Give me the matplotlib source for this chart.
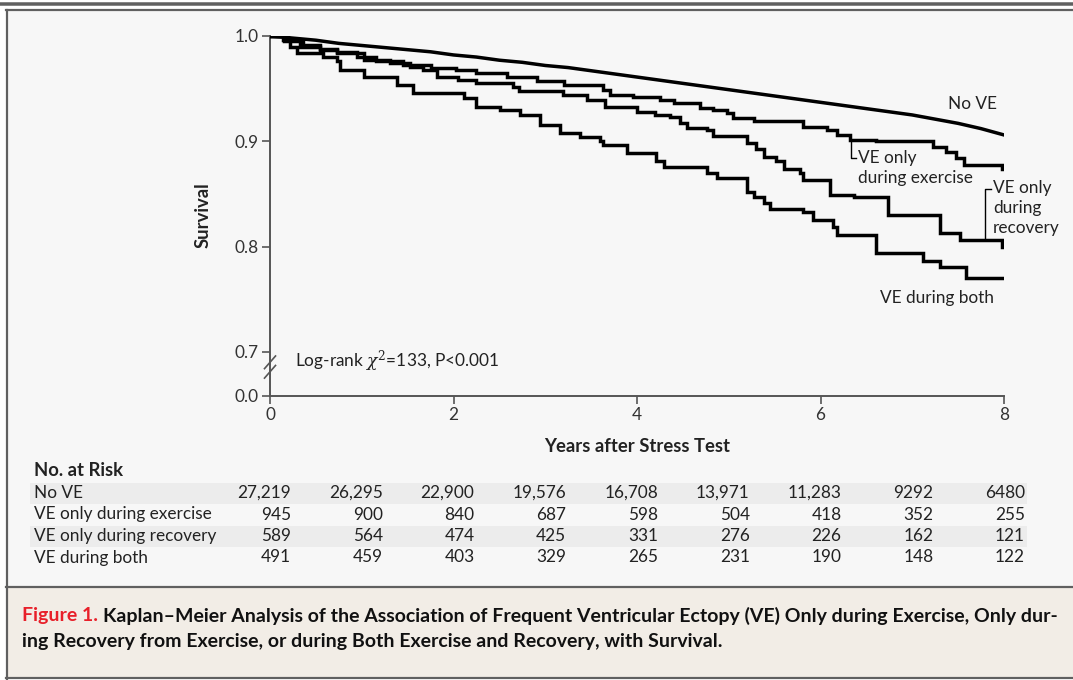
import numpy as np
import matplotlib.pyplot as plt
from matplotlib.patches import Rectangle
from matplotlib.lines import Line2D

plt.rcParams['font.family'] = ['Lato', 'DejaVu Sans']
plt.rcParams['mathtext.fontset'] = 'dejavuserif'

W, H = 1073, 680

# Kaplan-Meier curves (years, survival)
t_none = [0, 0.25, 0.5, 0.75, 1.0, 1.25, 1.5, 1.75, 2.0, 2.25, 2.5, 2.75, 3.0, 3.25, 3.5, 3.75,
          4.0, 4.25, 4.5, 4.75, 5.0, 5.25, 5.5, 5.75, 6.0, 6.25, 6.5, 6.75, 7.0, 7.25, 7.5, 7.75, 8.0]
s_none = [1.0, 0.998, 0.996, 0.993, 0.991, 0.989, 0.987, 0.985, 0.982, 0.980, 0.977, 0.975, 0.972,
          0.970, 0.967, 0.964, 0.961, 0.958, 0.955, 0.952, 0.949, 0.946, 0.943, 0.940, 0.937, 0.934,
          0.931, 0.928, 0.925, 0.921, 0.917, 0.912, 0.906]

t_exer = [0, 0.2, 0.36, 0.55, 0.73, 0.95, 1.16, 1.45, 1.75, 2.03, 2.25, 2.58, 2.91, 3.20, 3.63, 3.71,
          3.96, 4.25, 4.40, 4.69, 4.83, 4.98, 5.05, 5.27, 5.81, 6.07, 6.18, 6.32, 6.61, 7.23, 7.37,
          7.48, 7.56, 7.98, 8.0]
s_exer = [1.0, 0.996, 0.991, 0.988, 0.985, 0.980, 0.976, 0.972, 0.970, 0.968, 0.965, 0.961, 0.957,
          0.953, 0.949, 0.944, 0.942, 0.939, 0.936, 0.932, 0.930, 0.927, 0.922, 0.919, 0.914, 0.911,
          0.906, 0.901, 0.900, 0.895, 0.890, 0.884, 0.877, 0.874, 0.874]

t_reco = [0, 0.15, 0.33, 0.55, 0.73, 1.02, 1.31, 1.53, 1.67, 1.82, 2.05, 2.25, 2.65, 2.71, 3.19,
          3.45, 3.65, 4.00, 4.20, 4.36, 4.47, 4.54, 4.76, 4.83, 5.20, 5.30, 5.38, 5.52, 5.60, 5.78,
          5.81, 6.10, 6.36, 6.74, 7.30, 7.52, 7.98, 8.0]
s_reco = [1.0, 0.995, 0.990, 0.987, 0.984, 0.977, 0.974, 0.971, 0.968, 0.961, 0.958, 0.955, 0.952,
          0.948, 0.944, 0.939, 0.933, 0.928, 0.925, 0.923, 0.917, 0.913, 0.911, 0.905, 0.898, 0.893,
          0.885, 0.881, 0.874, 0.870, 0.863, 0.849, 0.847, 0.830, 0.813, 0.806, 0.800, 0.800]

t_both = [0, 0.145, 0.218, 0.29, 0.58, 0.73, 0.76, 1.02, 1.38, 1.56, 2.11, 2.25, 2.51, 2.72, 2.94,
          3.16, 3.38, 3.60, 3.63, 3.89, 4.21, 4.29, 4.76, 4.87, 5.20, 5.27, 5.38, 5.45, 5.81, 5.92,
          6.14, 6.18, 6.61, 7.12, 7.30, 7.59, 8.0]
s_both = [1.0, 0.996, 0.990, 0.984, 0.980, 0.976, 0.968, 0.961, 0.953, 0.946, 0.941, 0.933, 0.930,
          0.925, 0.915, 0.908, 0.904, 0.900, 0.896, 0.889, 0.881, 0.876, 0.870, 0.865, 0.852, 0.847,
          0.841, 0.836, 0.833, 0.825, 0.819, 0.811, 0.794, 0.786, 0.781, 0.770, 0.770]

# axis ticks (0.0 sits just below the break)
y_zero = 0.658
yticks = [y_zero, 0.7, 0.8, 0.9, 1.0]
ytick_labels = ["0.0", "0.7", "0.8", "0.9", "1.0"]
xticks = [0, 2, 4, 6, 8]

# numbers at risk
risk_years = [0, 1, 2, 3, 4, 5, 6, 7, 8]
risk_groups = ["No VE", "VE only during exercise", "VE only during recovery", "VE during both"]
risk_none = ["27,219", "26,295", "22,900", "19,576", "16,708", "13,971", "11,283", "9292", "6480"]
risk_exer = ["945", "900", "840", "687", "598", "504", "418", "352", "255"]
risk_reco = ["589", "564", "474", "425", "331", "276", "226", "162", "121"]
risk_both = ["491", "459", "403", "329", "265", "231", "190", "148", "122"]


def px(x, y):
    return x / W, 1 - y / H


fig = plt.figure(figsize=(W / 100, H / 100), dpi=100, facecolor='white')

# page frame and backgrounds
fig.patches.append(Rectangle(px(7, 679), (W - 7) / W, 92 / H, transform=fig.transFigure,
                             facecolor='#f2ede6', edgecolor='none', zorder=-3))
fig.patches.append(Rectangle(px(7, 587), (W - 7) / W, 577 / H, transform=fig.transFigure,
                             facecolor='#f7f7f7', edgecolor='none', zorder=-3))
gray = '#606060'
for (x0, y0, x1, y1, lw) in [(0, 3.5, W, 3.5, 3.5), (6, 10, W, 10, 2.2), (6.5, 10, 6.5, 679, 2.2),
                             (6, 678, W, 678, 2.2), (6, 587, W, 587, 2.2)]:
    a, b = px(x0, y0)
    c, d = px(x1, y1)
    fig.add_artist(Line2D([a, c], [b, d], color=gray, lw=lw * 0.72, transform=fig.transFigure))

l, top = px(270, 36)
r, bot = px(1004, 396)
ax = fig.add_axes([l, bot, r - l, top - bot])
ax.set_facecolor('none')
ax.set_zorder(2)

# many small events in the large group: drawn as a near-continuous line
ax.plot(t_none, s_none, color='black', lw=2.5, zorder=3)
for t, s in [(t_exer, s_exer), (t_reco, s_reco), (t_both, s_both)]:
    ax.step(t, s, where='post', color='black', lw=2.5, solid_joinstyle='miter', zorder=3)

ax.set_xlim(0, 8)
ax.set_ylim(y_zero, 1.0)
ax.set_xticks(xticks)
ax.set_xticklabels([str(v) for v in xticks])
ax.set_yticks(yticks)
ax.set_yticklabels(ytick_labels)
for side in ['top', 'right']:
    ax.spines[side].set_visible(False)
for side in ['left', 'bottom']:
    ax.spines[side].set_color('#555555')
    ax.spines[side].set_linewidth(1.4)
ax.tick_params(direction='out', length=6, width=1.2, color='#555555',
               labelsize=12.4, labelcolor='#333333', pad=2)

# axis break marks
for dy in [0.0, 0.009]:
    ax.plot([-0.06, 0.06], [0.675 + dy, 0.687 + dy], color='#555555', lw=1.2, clip_on=False)

# curve labels
lab = dict(fontsize=12.4, color='#222222')
ax.text(7.39, 0.935, "No VE", va='center', ha='left', **lab)
ax.text(6.41, 0.892, "VE only\nduring exercise", va='top', ha='left', linespacing=1.3, **lab)
ax.text(7.88, 0.863, "VE only\nduring\nrecovery", va='top', ha='left', linespacing=1.3, **lab)
ax.text(6.65, 0.751, "VE during both", va='center', ha='left', **lab)
ax.plot([6.33, 6.33, 6.39], [0.900, 0.884, 0.884], color='black', lw=1.0)
ax.plot([7.79, 7.79, 7.86], [0.806, 0.855, 0.855], color='black', lw=1.0)
ax.text(0.27, 0.691, r"Log-rank $\chi^2$=133, P<0.001", va='center', ha='left', **lab)

fig.text(*px(203, 215), "Survival", rotation=90, ha='center', va='center',
         fontsize=13.3, fontweight='bold', color='#222222')
fig.text(*px(637, 447), "Years after Stress Test", ha='center', va='center',
         fontsize=13.3, fontweight='bold', color='#222222')

# number at risk table
fig.text(*px(34, 471), "No. at Risk", ha='left', va='center', fontsize=13.3,
         fontweight='bold', color='#222222')
row_y = [493, 514.5, 536, 557.5]
for i, (name, vals) in enumerate(zip(risk_groups, [risk_none, risk_exer, risk_reco, risk_both])):
    if i % 2 == 0:
        fig.patches.append(Rectangle(px(30, row_y[i] + 10.5), 997 / W, 21 / H,
                                     transform=fig.transFigure, facecolor='#ececec',
                                     edgecolor='none', zorder=-1))
    fig.text(*px(34, row_y[i]), name, ha='left', va='center', fontsize=12.4, color='#222222')
    for yr, v in zip(risk_years, vals):
        fig.text(*px(270 + yr * 91.75 + 21, row_y[i]), v, ha='right', va='center',
                 fontsize=12.4, color='#222222')

# caption
cap = dict(fontsize=14.0, fontweight='bold', va='center', ha='left')
t1 = fig.text(*px(22, 616), "Figure 1.", color='#e8202a', **cap)
fig.canvas.draw()
bb = t1.get_window_extent()
fig.text((bb.x1 + 5) / W, 1 - 616 / H,
         "Kaplan\u2013Meier Analysis of the Association of Frequent Ventricular Ectopy (VE) "
         "Only during Exercise, Only dur-", color='#111111', **cap)
fig.text(*px(22, 641), "ing Recovery from Exercise, or during Both Exercise and Recovery, with Survival.",
         color='#111111', **cap)

fig.savefig('out.png', dpi=100, facecolor=fig.get_facecolor())
